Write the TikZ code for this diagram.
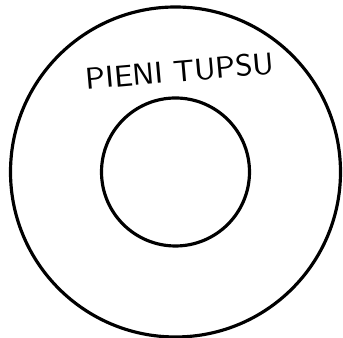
\documentclass[tikz,border=0pt]{standalone}
\usepackage{tikz}
\usetikzlibrary{positioning}

\begin{document}
\begin{tikzpicture}[
			every node/.style={font=\sffamily},
			ring/.style={draw, circle, line width=0.9pt, inner sep=0pt}
			]
			
			% Marco
			\useasboundingbox (0,0) rectangle (3.43,3.38);
			
			% Circulos
			\node[ring, minimum size=3.30cm] (outer) at (1.755,1.66) {};
			\node[ring, minimum size=1.48cm] (inner) at (outer.center) {};
			
			% Texto
			\node[font=\sffamily\fontsize{8.6}{9}\selectfont, rotate=5] (label) at (1.80,2.67)
			{PIENI TUPSU};
			
		\end{tikzpicture}
\end{document}
